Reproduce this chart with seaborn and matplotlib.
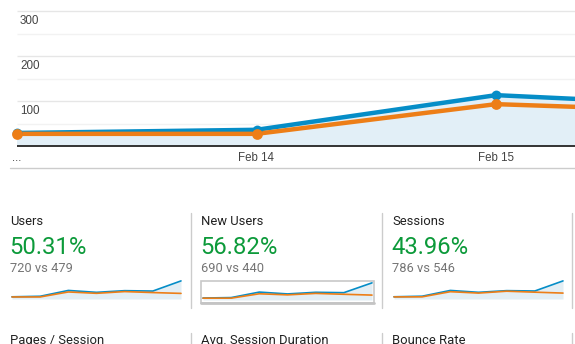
import matplotlib
matplotlib.use("Agg")
import matplotlib.pyplot as plt
from matplotlib.lines import Line2D
from matplotlib.patches import Rectangle
import seaborn as sns
import pandas as pd

# ---------------- data ----------------
main_ticks = ["...", "Feb 14", "Feb 15"]
y_labels = [100, 200, 300]

users_cur = [29, 36, 113, 88, 110, 105, 239]
users_prev = [27, 27, 93, 75, 98, 85, 74]
newusers_cur = [27, 33, 108, 83, 105, 100, 234]
newusers_prev = [25, 25, 85, 70, 90, 78, 67]
sessions_cur = [32, 40, 123, 96, 120, 115, 260]
sessions_prev = [30, 31, 105, 85, 112, 98, 85]

metric_names = ["Users", "New Users", "Sessions"]
metric_pct = ["50.31%", "56.82%", "43.96%"]
metric_cmp = ["720 vs 479", "690 vs 440", "786 vs 546"]
row2_names = ["Pages / Session", "Avg. Session Duration", "Bounce Rate"]

BLUE = "#058dc7"
ORANGE = "#ed7e17"
FILL = "#e2eff7"
GREEN = "#0c9a3a"

W, H = 575, 344

sns.set_style("white")
plt.rcParams["font.family"] = ["Roboto", "DejaVu Sans"]

fig = plt.figure(figsize=(W / 100, H / 100), dpi=100)


def ax_px(x0, y0, x1, y1):
    """axes from pixel box (top-left origin)"""
    return fig.add_axes([x0 / W, 1 - y1 / H, (x1 - x0) / W, (y1 - y0) / H])


def fx(x):
    return x / W


def fy(y):
    return 1 - y / H


# ---------------- main chart ----------------
n_main = 4
df_main = pd.DataFrame({
    "day": list(range(n_main)) * 2,
    "value": users_cur[:n_main] + users_prev[:n_main],
    "series": ["cur"] * n_main + ["prev"] * n_main,
})

ax = ax_px(10, 11, 575, 146)
day_px = 239.5
xmin = -7 / day_px
xmax = (575 - 17) / day_px
ax.set_xlim(xmin, xmax)
ax.set_ylim(0, 300)

for v in [50, 100, 150, 200, 250, 300]:
    ax.hlines(v, 0, xmax, color="#e6e6e6" if v % 100 == 0 else "#f2f2f2",
              lw=1.0, clip_on=False, zorder=0)

ax.fill_between(range(n_main), users_cur[:n_main], 0, color=FILL, lw=0, zorder=1)
sns.lineplot(data=df_main[df_main.series == "cur"], x="day", y="value", ax=ax,
             color=BLUE, lw=3.2, zorder=3, legend=False)
sns.lineplot(data=df_main[df_main.series == "prev"], x="day", y="value", ax=ax,
             color=ORANGE, lw=3.2, zorder=4, legend=False)
vis = df_main[df_main.day <= 2]
ax.scatter(vis[vis.series == "cur"].day, vis[vis.series == "cur"].value,
           s=50, color=BLUE, zorder=5, clip_on=False, lw=0)
ax.scatter(vis[vis.series == "prev"].day, vis[vis.series == "prev"].value,
           s=60, color=ORANGE, zorder=6, clip_on=False, lw=0)

ax.hlines(0, 0, xmax, color="#333333", lw=1.4, clip_on=False, zorder=7)

for v in y_labels:
    ax.annotate(str(v), (0, v), xytext=(2.2, -9.4), textcoords="offset points",
                ha="left", va="baseline", fontsize=8.4, color="#444444",
                family=["Liberation Sans", "DejaVu Sans"])

ax.set_xticks(range(len(main_ticks)))
ax.set_xticklabels(main_ticks, fontsize=8.3, color="#444444",
                   family=["Liberation Sans", "DejaVu Sans"])
ax.tick_params(axis="x", length=0, pad=4.5)
ax.set_yticks([])
ax.set_xlabel("")
ax.set_ylabel("")
for s in ax.spines.values():
    s.set_visible(False)
ax.patch.set_alpha(0)

# separator under chart
fig.add_artist(Line2D([fx(10), fx(575)], [fy(168), fy(168)], color="#cccccc", lw=1.0))

# ---------------- metric panels ----------------
panel_x = [10, 201, 392]
spark_data = [(users_cur, users_prev), (newusers_cur, newusers_prev),
              (sessions_cur, sessions_prev)]
spark_box = [(12, 280, 181, 299), (203, 282, 372, 300), (394, 280, 563, 299)]

for i in range(3):
    x = panel_x[i]
    fig.text(fx(x), fy(225), metric_names[i], fontsize=9.4, color="#212121",
             ha="left", va="baseline")
    fig.text(fx(x - 0.5), fy(254), metric_pct[i], fontsize=17.2, color=GREEN,
             ha="left", va="baseline")
    fig.text(fx(x), fy(272.3), metric_cmp[i], fontsize=9.3, color="#757575",
             ha="left", va="baseline")
    fig.text(fx(x), fy(344.0), row2_names[i], fontsize=9.4, color="#212121",
             ha="left", va="baseline")

    cur, prev = spark_data[i]
    dfs = pd.DataFrame({"day": list(range(len(cur))), "cur": cur, "prev": prev})
    b = spark_box[i]
    sax = ax_px(*b)
    sax.fill_between(dfs.day, dfs.cur, 0, color="#e3eef4", lw=0)
    sns.lineplot(data=dfs, x="day", y="cur", ax=sax, color=BLUE, lw=1.2)
    sns.lineplot(data=dfs, x="day", y="prev", ax=sax, color=ORANGE, lw=1.2)
    for ln in sax.lines:
        ln.set_clip_on(False)
    sax.set_xlim(0, len(cur) - 1)
    sax.set_ylim(0, max(cur) * 1.05)
    sax.axis("off")

# hovered box around New Users sparkline
fig.add_artist(Rectangle((fx(201), fy(303)), (373.5 - 201) / W, (303 - 281) / H,
                         transform=fig.transFigure, fill=False,
                         edgecolor="#c8c8c8", lw=1.2))
fig.add_artist(Line2D([fx(201), fx(373.5)], [fy(302.5), fy(302.5)],
                      color="#c4c4c4", lw=2.0))

# vertical separators
for sx in [191, 382, 572]:
    fig.add_artist(Line2D([fx(sx), fx(sx)], [fy(213), fy(308)], color="#cccccc", lw=1.0))
    fig.add_artist(Line2D([fx(sx), fx(sx)], [fy(333), fy(345)], color="#cccccc", lw=1.0))

fig.savefig("out.png", dpi=100)
